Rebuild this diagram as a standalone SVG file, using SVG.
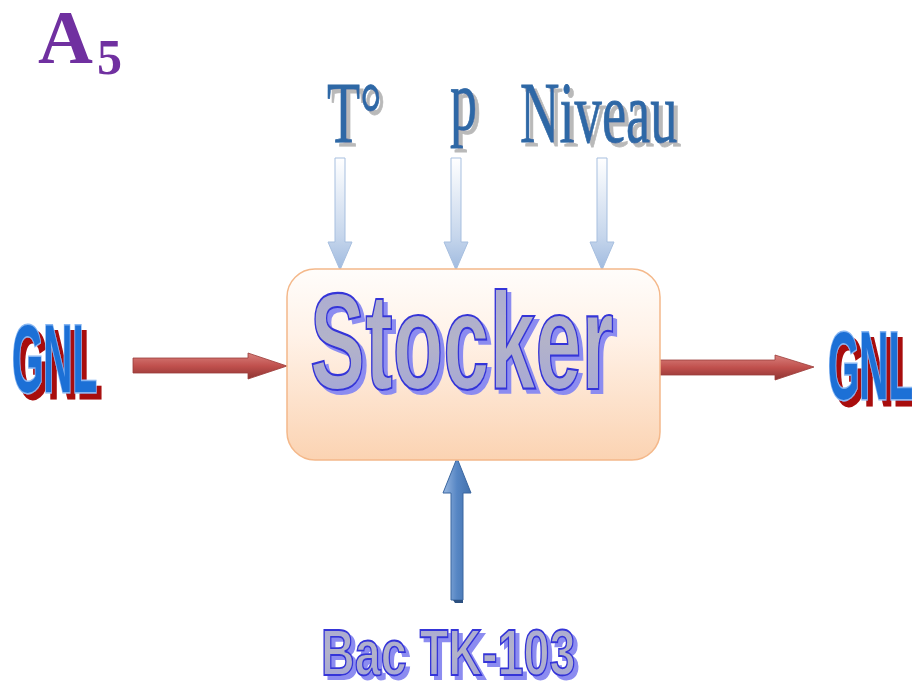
<svg xmlns="http://www.w3.org/2000/svg" width="912" height="693" viewBox="0 0 912 693">
<defs>
<linearGradient id="boxGrad" x1="0" y1="0" x2="0" y2="1">
<stop offset="0" stop-color="#fffdfb"/>
<stop offset="0.35" stop-color="#fff2e8"/>
<stop offset="1" stop-color="#fbd3b2"/>
</linearGradient>
<linearGradient id="topArr" x1="0" y1="0" x2="0" y2="1">
<stop offset="0" stop-color="#ffffff"/>
<stop offset="0.7" stop-color="#c6d6ec"/>
<stop offset="1" stop-color="#9fbadf"/>
</linearGradient>
<linearGradient id="botArr" x1="0" y1="0" x2="1" y2="0">
<stop offset="0" stop-color="#9ab8e0"/>
<stop offset="0.5" stop-color="#5686c4"/>
<stop offset="1" stop-color="#4371ac"/>
</linearGradient>
<linearGradient id="redArr" x1="0" y1="0" x2="0" y2="1">
<stop offset="0" stop-color="#d8807c"/>
<stop offset="0.5" stop-color="#c0504d"/>
<stop offset="1" stop-color="#8e3432"/>
</linearGradient>
<linearGradient id="lavGrad" x1="0" y1="0" x2="0" y2="1">
<stop offset="0" stop-color="#a9a9d6"/>
<stop offset="0.5" stop-color="#b3b3c9"/>
<stop offset="1" stop-color="#a0a2dc"/>
</linearGradient>
<filter id="shGrey" x="-10%" y="-10%" width="130%" height="130%">
<feFlood flood-color="#b9b9b9"/><feComposite in2="SourceAlpha" operator="in"/><feOffset dx="4" dy="4" result="s"/>
<feMerge><feMergeNode in="s"/><feMergeNode in="SourceGraphic"/></feMerge>
</filter>
<filter id="shRed" x="-10%" y="-10%" width="130%" height="130%">
<feFlood flood-color="#a80c0c"/><feComposite in2="SourceAlpha" operator="in"/><feOffset dx="5" dy="6" result="s"/>
<feMerge><feMergeNode in="s"/><feMergeNode in="SourceGraphic"/></feMerge>
</filter>
<filter id="shBlue" x="-10%" y="-10%" width="130%" height="130%">
<feFlood flood-color="#8c8cf0"/><feComposite in2="SourceAlpha" operator="in"/><feOffset dx="4" dy="4" result="s"/>
<feMerge><feMergeNode in="s"/><feMergeNode in="SourceGraphic"/></feMerge>
</filter>
<style>
.serif{font-family:"Liberation Serif","Times New Roman",serif;}
.sans{font-family:"Liberation Sans",Arial,sans-serif;font-weight:bold;}
.lbl{fill:#2f68a6;stroke:#2f68a6;stroke-width:0.8;}
.gnl{fill:#1c6fd6;stroke:#86b6f2;stroke-width:3;paint-order:stroke;}
.lav{fill:url(#lavGrad);stroke:#3434d8;stroke-width:2.2;}
.topA{fill:url(#topArr);stroke:#a7bfdf;stroke-width:1;}
.redA{fill:url(#redArr);stroke:#9a3c3a;stroke-width:0.8;}
</style>
</defs>
<rect width="912" height="693" fill="#ffffff"/>

<g id="title">
<text class="serif" x="38" y="63" font-size="76" font-weight="bold" fill="#7030a0">A</text>
<text class="serif" x="97" y="74" font-size="50" font-weight="bold" fill="#7030a0">5</text>
</g>

<g id="label-T" filter="url(#shGrey)">
<g transform="translate(327,142) scale(0.63,1)"><text class="serif lbl" x="0" y="0" font-size="86">T°</text></g>
</g>
<g id="label-p" filter="url(#shGrey)">
<g transform="translate(450,129) scale(0.63,1)"><text class="serif lbl" x="0" y="0" font-size="86">p</text></g>
</g>
<g id="label-niveau" filter="url(#shGrey)">
<g transform="translate(520,142) scale(0.635,1)"><text class="serif lbl" x="0" y="0" font-size="86">Niveau</text></g>
</g>

<g id="gnl-in" filter="url(#shRed)">
<g transform="translate(12,392) scale(0.42,1)"><text class="sans gnl" x="0" y="0" font-size="96">GNL</text></g>
</g>
<g id="gnl-out" filter="url(#shRed)">
<g transform="translate(828,399) scale(0.42,1)"><text class="sans gnl" x="0" y="0" font-size="96">GNL</text></g>
</g>

<g id="connectors">
<path class="topA" d="M335,158 H345 V242 H352 L340,270 L328,242 H335 Z"/>
<path class="topA" d="M451,158 H461 V242 H468 L456,270 L444,242 H451 Z"/>
<path class="topA" d="M597,158 H607 V242 H614 L602,270 L590,242 H597 Z"/>
<path d="M451,600 V493 H443 L457,458 L471,493 H463 V600 Z" fill="url(#botArr)" stroke="#3a66a0" stroke-width="1"/>
<path d="M453,600 H463 V603 H455 Z" fill="#2c5080"/>
<path class="redA" d="M133,358 H248 V353 L287,366 L248,379 V373 H133 Z"/>
<path class="redA" d="M658,360 H775 V355 L814,367 L775,380 V375 H658 Z"/>
</g>

<g id="stocker">
<rect x="287" y="269" width="373" height="191" rx="28" ry="28" fill="url(#boxGrad)" stroke="#f4b88a" stroke-width="1.5"/>
<g filter="url(#shBlue)">
<g transform="translate(310,389) scale(0.6,1)"><text class="sans lav" x="0" y="0" font-size="138">Stocker</text></g>
</g>
</g>

<g id="bac" filter="url(#shBlue)">
<g transform="translate(321,675) scale(0.73,1)"><text class="sans lav" x="0" y="0" font-size="64" style="stroke-width:1.8">Bac TK-103</text></g>
</g>
</svg>
